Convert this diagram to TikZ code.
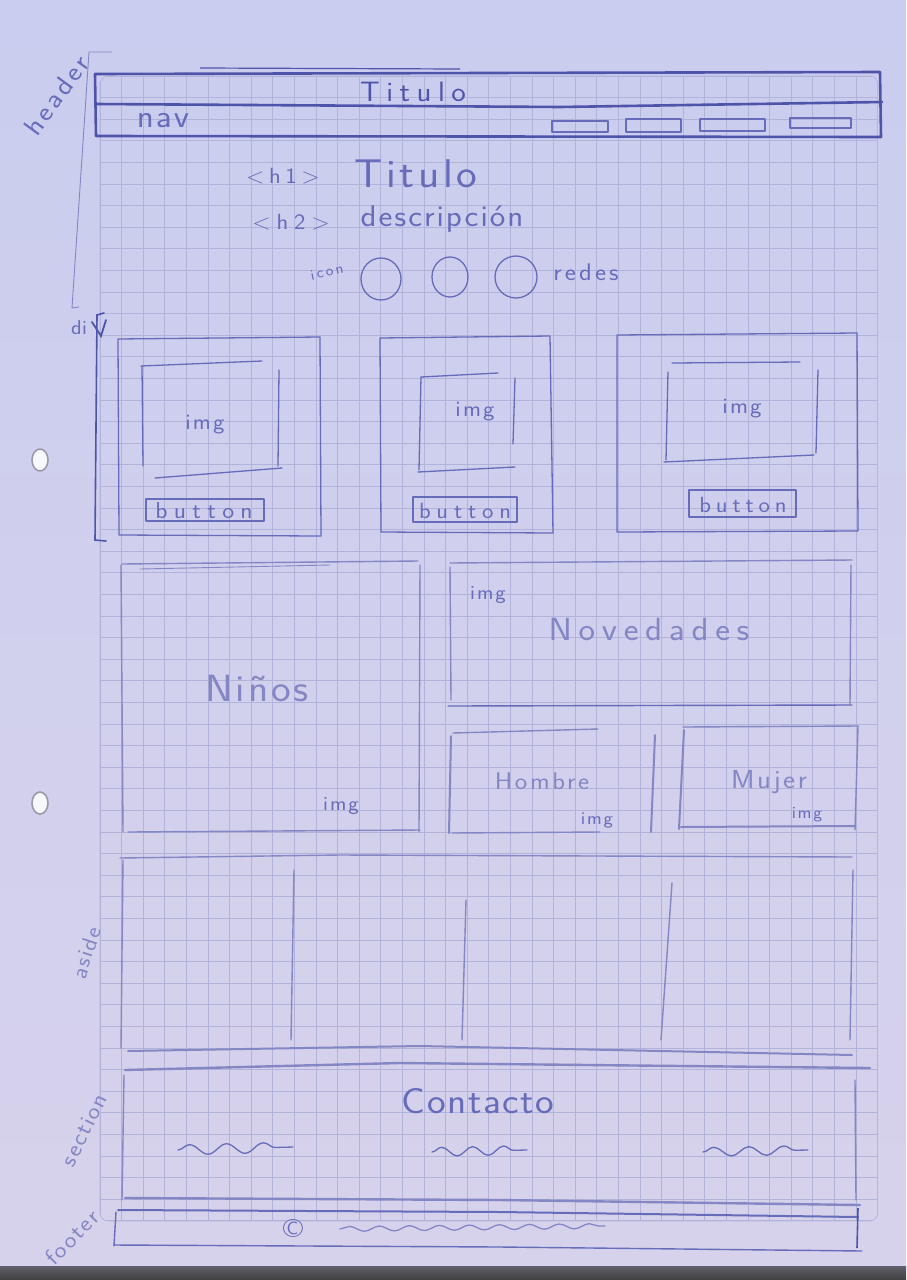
\documentclass[tikz,border=0pt]{standalone}
\usepackage{fontspec}
\setsansfont{Latin Modern Sans}
\usetikzlibrary{decorations.pathmorphing}
\definecolor{paperTop}{HTML}{CACDEF}
\definecolor{paperBot}{HTML}{D7D2EB}
\definecolor{gridc}{HTML}{B1B3DA}
\definecolor{ink}{HTML}{4E54A9}
\definecolor{pen}{HTML}{666BBA}
\definecolor{pencil}{HTML}{8487C4}
\definecolor{ringc}{HTML}{9A9AA8}
\tikzset{
  gridline/.style={draw=gridc, line width=0.65pt},
  strong/.style={draw=ink, line width=2.6pt, line cap=round, line join=round},
  medium/.style={draw=pen, line width=1.3pt, line cap=round, line join=round},
  faint/.style={draw=pencil, line width=1.4pt, line cap=round, line join=round},
  thinline/.style={draw=pencil, line width=0.9pt, line cap=round},
  hand/.style={font=\sffamily, inner sep=0pt, text=pen},
  handfaint/.style={font=\sffamily, inner sep=0pt, text=pencil},
  squiggle/.style={draw=pen, line width=1.3pt, line cap=round, decorate,
    decoration={snake, amplitude=5pt, segment length=37pt}},
  ring/.style={draw=ringc, line width=1.6pt, fill=white!85!paperTop}
}
% handwriting-like text: letter spacing, font size, text
\newcommand{\hw}[3]{\scalebox{1.1}[1]{\fontsize{#2}{#2}\selectfont\addfontfeatures{LetterSpace=#1}#3}}
\begin{document}
\begin{tikzpicture}[x=1pt,y=-1pt]
\useasboundingbox (0,0) rectangle (906,1280);

% sheet of paper and the table edge below it
\shade[top color=paperTop, bottom color=paperBot] (0,0) rectangle (906,1266);
\shade[top color=black!55!paperBot, bottom color=black!75] (0,1266) rectangle (906,1280);

% squared paper
\begin{scope}
  \clip[rounded corners=8pt] (100,76) rectangle (877.6,1221);
  \foreach \i in {0,...,36} \draw[gridline] ({100+\i*21.6},76) -- ({100+\i*21.6},1221);
  \foreach \j in {0,...,53} \draw[gridline] (100,{76+\j*21.6}) -- (877.6,{76+\j*21.6});
\end{scope}
\draw[gridline,rounded corners=8pt] (100,76) rectangle (877.6,1221);

% binder reinforcement rings
\draw[ring] (40,460) ellipse [x radius=8, y radius=11];
\draw[ring] (40,803) ellipse [x radius=8, y radius=11];

% ---------- header ----------
\node[hand, rotate=54] (lblheader) at (57,95) {\hw{10}{27}{header}};
\coordinate (hbTop) at (89,52);
\coordinate (hbTick) at (112,52);
\coordinate (hbBot) at (72,308);
\draw[thinline] (hbTick) -- (hbTop) -- (hbBot) -- ++(7,-1);

\draw[strong] (95,74) -- (880,72) -- (881,137) -- (96,136) -- cycle;
\draw[draw=ink, line width=1.2pt] (200,68) -- (460,69);
\draw[strong] (96,104) -- (560,107) -- (882,102);
\node[hand, text=ink] (navTitle) at (413,92) {\hw{21}{28}{Titulo}};
\node[hand] (navLabel) at (163,121) {\hw{6}{32}{nav}};
\draw[medium] (552,121) rectangle (608,132);
\draw[medium] (626,119) rectangle (681,132);
\draw[medium] (700,119) rectangle (765,131);
\draw[medium] (790,118) rectangle (851,128);

\node[hand] (h1tag) at (283,176) {\hw{19}{22}{<h1>}};
\node[hand] (h1text) at (416,174) {\hw{8}{40}{Titulo}};
\node[hand] (h2tag) at (291,222) {\hw{24}{22}{<h2>}};
\node[hand] (h2text) at (442,219) {\hw{6}{30}{descripción}};
\node[hand, rotate=12] (iconlbl) at (327,272) {\hw{14}{15}{icon}};
\draw[medium] (381,279) circle [x radius=20, y radius=21];
\draw[medium] (450,277) circle [x radius=18, y radius=20];
\draw[medium] (516,277) circle [x radius=21, y radius=21];
\node[hand] (redes) at (586,272) {\hw{12}{24}{redes}};

% ---------- div with three cards ----------
\node[hand] (lbldiv) at (79,328) {\hw{2}{20}{di}};
\coordinate (dbTop) at (104,313);
\coordinate (dbTopL) at (97,315);
\coordinate (dbBot) at (95,540);
\coordinate (dbBotR) at (106,541);
\draw[draw=ink, line width=1.6pt, line cap=round] (dbTop) -- (dbTopL) -- (dbBot) -- (dbBotR);
\draw[draw=ink, line width=1.8pt, line cap=round] (92,322) -- (101,336) -- (106,320);

% card 1
\draw[medium] (118,339) -- (320,337) -- (321,536) -- (119,535) -- cycle;
\draw[medium] (141,366) -- (262,361);
\draw[medium] (142,366) -- (143,466);
\draw[medium] (279,370) -- (278,466);
\draw[medium] (155,478) -- (282,468);
\node[hand] (img1) at (205,425) {\hw{9}{22}{img}};
\draw[medium] (146,499) rectangle (264,521);
\node[hand] (btn1) at (204,511) {\hw{25}{23}{button}};

% card 2
\draw[medium] (380,338) -- (550,336) -- (553,533) -- (381,532) -- cycle;
\draw[medium] (421,377) -- (498,373);
\draw[medium] (421,377) -- (419,470);
\draw[medium] (515,378) -- (513,444);
\draw[medium] (418,472) -- (515,467);
\node[hand] (img2) at (475,412) {\hw{9}{22}{img}};
\draw[medium] (413,497) rectangle (517,522);
\node[hand] (btn2) at (465,511) {\hw{24}{22}{button}};

% card 3
\draw[medium] (617,335) -- (857,333) -- (858,531) -- (617,532) -- cycle;
\draw[medium] (672,363) -- (800,362);
\draw[medium] (668,372) -- (666,460);
\draw[medium] (818,370) -- (816,453);
\draw[medium] (664,462) -- (814,455);
\node[hand] (img3) at (742,409) {\hw{9}{22}{img}};
\draw[medium] (689,490) rectangle (796,517);
\node[hand] (btn3) at (743,505) {\hw{20}{22}{button}};

% ---------- categories ----------
\draw[faint] (122,564) -- (418,561);
\draw[faint, line width=0.9pt] (140,569) -- (330,565);
\draw[faint] (121,565) -- (123,832);
\draw[faint] (420,565) -- (419,832);
\draw[faint] (128,832) -- (420,830);
\node[handfaint] (ninos) at (257,688) {\hw{7}{38}{Niños}};
\node[hand] (img4) at (341,806) {\hw{9}{20}{img}};

\draw[faint] (450,563) -- (852,560);
\draw[faint] (450,567) -- (451,700);
\draw[faint] (851,565) -- (850,704);
\draw[faint, draw=pen] (448,706) -- (852,705);
\node[hand] (img5) at (488,595) {\hw{9}{20}{img}};
\node[handfaint] (noved) at (649,630) {\hw{19}{32}{Novedades}};

\draw[faint] (453,733) -- (598,729);
\draw[faint, line width=2pt] (451,736) -- (449,833);
\draw[faint] (452,833) -- (600,832);
\draw[faint, line width=2pt] (655,735) -- (651,832);
\node[handfaint] (hombre) at (542,781) {\hw{10}{24}{Hombre}};
\node[hand] (img6) at (597,820) {\hw{9}{18}{img}};

\draw[faint] (683,727) -- (858,726);
\draw[faint, line width=2pt] (684,730) -- (679,829);
\draw[faint, line width=2pt] (681,827) -- (855,826);
\draw[faint] (858,726) -- (855,830);
\node[handfaint] (mujer) at (769,782) {\hw{9}{26}{Mujer}};
\node[hand] (img7) at (807,815) {\hw{9}{17}{img}};

% ---------- aside ----------
\node[handfaint, rotate=72] (lblaside) at (86,953) {\hw{6}{22}{aside}};
\draw[faint] (120,858) -- (340,855) -- (852,857);
\draw[faint] (123,860) -- (121,1048);
\draw[faint] (853,870) -- (850,1040);
\draw[faint] (294,870) -- (291,1040);
\draw[faint] (466,900) -- (462,1040);
\draw[faint] (672,883) -- (661,1040);
\draw[faint, line width=2pt] (128,1051) -- (420,1046) -- (852,1055);
\draw[faint, line width=2.4pt] (125,1070) -- (400,1063) -- (870,1068);

% ---------- contacto ----------
\node[handfaint, rotate=64] (lblsection) at (84,1130) {\hw{6}{23}{section}};
\draw[faint] (124,1075) -- (122,1200);
\draw[faint] (855,1080) -- (856,1200);
\node[hand] (contacto) at (478,1101) {\hw{4}{36}{Contacto}};
\coordinate (sq1a) at (178,1150);
\coordinate (sq1b) at (293,1147);
\coordinate (sq2a) at (432,1152);
\coordinate (sq2b) at (527,1150);
\coordinate (sq3a) at (703,1152);
\coordinate (sq3b) at (808,1150);
\draw[squiggle] (sq1a) -- (sq1b);
\draw[squiggle, decoration={snake, amplitude=4.5pt, segment length=31pt}] (sq2a) -- (sq2b);
\draw[squiggle, decoration={snake, amplitude=4.5pt, segment length=35pt}] (sq3a) -- (sq3b);

% ---------- footer ----------
\node[handfaint, rotate=46] (lblfooter) at (72,1237) {\hw{6}{23}{footer}};
\draw[faint, line width=2.4pt] (125,1198) -- (500,1200) -- (860,1205);
\draw[faint, draw=pen, line width=2pt] (118,1210) -- (500,1212) -- (858,1217);
\draw[faint, draw=pen] (116,1212) -- (114,1246);
\draw[faint, draw=pen] (114,1245) -- (500,1247) -- (862,1251);
\draw[draw=ink, line width=1.6pt] (858,1208) -- (857,1248);
\node[hand] (copy) at (293,1228) {\hw{0}{26}{©}};
\coordinate (fsqa) at (340,1229);
\coordinate (fsqb) at (605,1226);
\draw[squiggle, decoration={snake, amplitude=2.5pt, segment length=30pt}, draw=pencil] (fsqa) -- (fsqb);
\end{tikzpicture}
\end{document}
